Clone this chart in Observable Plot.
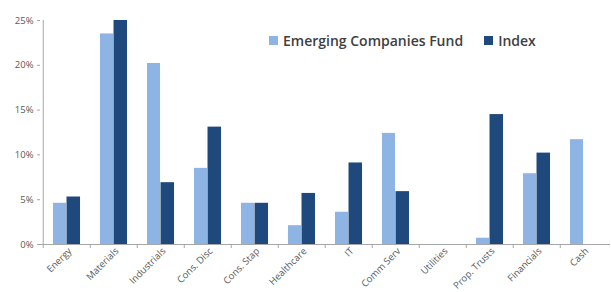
<!DOCTYPE html>
<html>
<head>
<meta charset="utf-8">
<script src="https://cdn.jsdelivr.net/npm/d3@7"></script>
<script src="https://cdn.jsdelivr.net/npm/@observablehq/plot@0.6"></script>
<style>
  html, body { margin: 0; padding: 0; background: #fff; }
  #wrap { position: relative; width: 611px; height: 292px; font-family: "Open Sans", sans-serif; }
  #legend { position: absolute; top: 31px; left: 269px; display: flex; align-items: center; font-size: 14px; font-weight: 600; color: #404040; white-space: nowrap; }
  #legend .sw { display: inline-block; width: 9px; height: 9px; margin-right: 5px; }
  #legend .item { display: flex; align-items: center; margin-right: 21px; }
</style>
</head>
<body>
<div id="wrap"><div id="legend"></div></div>
<script>
const categories = ["Energy","Materials","Industrials","Cons. Disc","Cons. Stap","Healthcare","IT","Comm Serv","Utilities","Prop. Trusts","Financials","Cash"];
const fundValues  = [4.6, 23.5, 20.2, 8.5, 4.6, 2.1, 3.6, 12.4, 0, 0.7, 7.9, 11.7];
const indexValues = [5.3, 25.0, 6.9, 13.1, 4.6, 5.7, 9.1, 5.9, 0, 14.5, 10.2, 0];
const seriesNames = ["Emerging Companies Fund", "Index"];
const seriesColors = ["#8db4e2", "#1f497d"];
const yTicks = [0, 5, 10, 15, 20, 25];

const W = 611, H = 292, mL = 40, mR = 1;
const step = (W - mL - mR) / categories.length;

const fundData = categories.map((c, i) => ({category: c, value: fundValues[i]}));
const indexData = categories.map((c, i) => ({category: c, value: indexValues[i]}));

const axisColor = "#a6a6a6";
const textColor = "#595959";

const chart = Plot.plot({
  width: W, height: H,
  marginLeft: mL, marginRight: mR, marginTop: 20, marginBottom: 48,
  style: {fontFamily: "'Open Sans', sans-serif", fontSize: "9px", color: textColor, background: "#fff"},
  x: {type: "band", domain: categories, padding: 0, label: null},
  y: {domain: [0, 25], label: null},
  marks: [
    Plot.barY(fundData, {x: "category", y: "value", fill: seriesColors[0], insetLeft: step * 0.21, insetRight: step * 0.505}),
    Plot.barY(indexData, {x: "category", y: "value", fill: seriesColors[1], insetLeft: step * 0.495, insetRight: step * 0.21}),
    Plot.ruleY([0], {stroke: axisColor}),
    Plot.ruleX([categories[0]], {dx: -step / 2, stroke: axisColor}),
    Plot.axisY({ticks: yTicks, tickFormat: d => d + "%", tickSize: 3, tickPadding: 4, stroke: axisColor, fill: textColor, fontSize: 9.5, label: null}),
    Plot.axisX({tickSize: 4, tickFormat: () => "", dx: -step / 2, stroke: axisColor, label: null}),
    Plot.axisX({tickSize: 0, tickRotate: -45, tickPadding: 5, dx: 3, fill: textColor, fontSize: 9.5, label: null})
  ]
});
document.getElementById("wrap").prepend(chart);

const legend = document.getElementById("legend");
seriesNames.forEach((n, i) => {
  const it = document.createElement("span");
  it.className = "item";
  it.innerHTML = `<span class="sw" style="background:${seriesColors[i]}"></span>${n}`;
  legend.appendChild(it);
});
</script>
</body>
</html>
